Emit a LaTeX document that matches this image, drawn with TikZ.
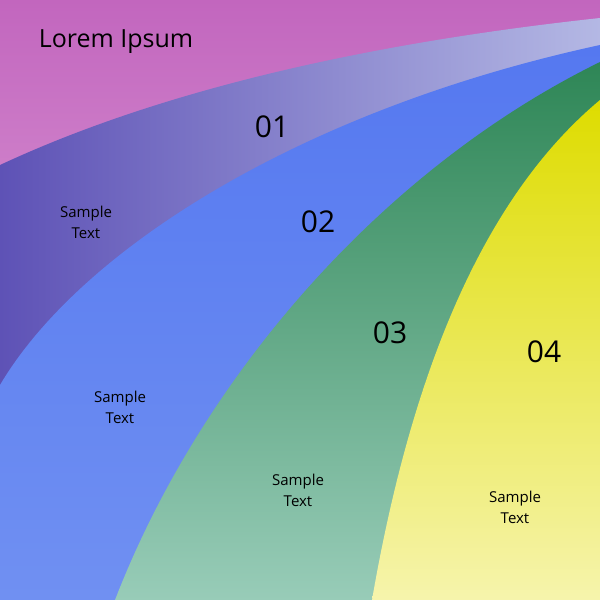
\documentclass[tikz,border=0pt]{standalone}
\usepackage{fontspec}
\setmainfont{Open Sans}
\begin{document}
\begin{tikzpicture}[x=1pt,y=-1pt,
  big/.style={font=\fontsize{30}{32}\selectfont},
  small/.style={font=\fontsize{15}{21}\selectfont,align=center}]
\useasboundingbox (0,0) rectangle (600,600);
\definecolor{pinkA}{HTML}{C266BE}\definecolor{pinkB}{HTML}{EAB8E4}
\definecolor{purA}{HTML}{5E52B6}\definecolor{purB}{HTML}{B4B8E4}
\definecolor{bluA}{HTML}{5578F0}\definecolor{bluB}{HTML}{7090F2}
\definecolor{grnA}{HTML}{2E8656}\definecolor{grnB}{HTML}{98CCB8}
\definecolor{yelA}{HTML}{DEDC00}\definecolor{yelB}{HTML}{F6F4AC}
\shade[top color=pinkA,bottom color=pinkB] (0,0) rectangle (600,600);
\shade[left color=purA,right color=purB] (0,165) .. controls (150,95) and (350,45) .. (600,18) -- (600,600) -- (0,600) -- cycle;
\shade[top color=bluA,bottom color=bluB] (0,385) .. controls (80,250) and (300,110) .. (600,45) -- (600,600) -- (0,600) -- cycle;
\shade[top color=grnA,bottom color=grnB] (115,600) .. controls (200,380) and (380,170) .. (600,62) -- (600,600) -- cycle;
\shade[top color=yelA,bottom color=yelB] (372,600) .. controls (410,380) and (480,200) .. (600,100) -- (600,600) -- cycle;
\node[font=\fontsize{25}{28}\selectfont] (t) at (116,42) {Lorem Ipsum};
\node[big] (n1) at (272,127) {01};
\node[big] (n2) at (318,222) {02};
\node[big] (n3) at (390,333) {03};
\node[big] (n4) at (544,352) {04};
\node[small] (s1) at (86,222) {Sample\\Text};
\node[small] (s2) at (120,407) {Sample\\Text};
\node[small] (s3) at (298,490) {Sample\\Text};
\node[small] (s4) at (515,507) {Sample\\Text};
\end{tikzpicture}
\end{document}
